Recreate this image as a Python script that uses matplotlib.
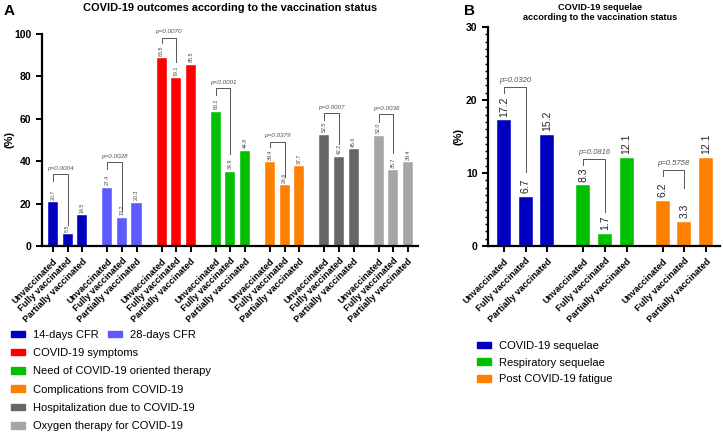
import matplotlib
matplotlib.use("Agg")
import matplotlib.pyplot as plt
from matplotlib.patches import Patch
import numpy as np

plt.rcParams['font.family'] = ['Liberation Sans', 'DejaVu Sans']

statuses = ["Unvaccinated", "Fully vaccinated", "Partially vaccinated"]

# Panel A
a_outcomes = ["14-days CFR", "28-days CFR", "COVID-19 symptoms", "Need of COVID-19 oriented therapy",
              "Complications from COVID-19", "Hospitalization due to COVID-19", "Oxygen therapy for COVID-19"]
a_values = [[20.7, 5.5, 14.5],
            [27.4, 13.2, 20.3],
            [88.5, 79.1, 85.5],
            [63.2, 34.9, 44.8],
            [39.4, 28.6, 37.7],
            [52.5, 42.2, 45.6],
            [52.0, 35.7, 39.4]]
a_pvalues = ["p=0.0004", "p=0.0028", "p=0.0070", "p<0.0001", "p=0.0379", "p=0.0007", "p=0.0036"]
a_colors = ["#0000c0", "#5b5bff", "#ff0000", "#00c000", "#ff8000", "#666666", "#a6a6a6"]
# bracket: top, left leg bottom, right leg bottom
a_brackets = [(34, 30.5, 10), (39.6, 36.3, 16.5), (98.2, 95.7, 87), (74.5, 71.2, 43.5),
              (49.2, 46.7, 32.5), (62.6, 59.4, 48), (62.3, 58.5, 44)]

# Panel B
b_outcomes = ["COVID-19 sequelae", "Respiratory sequelae", "Post COVID-19 fatigue"]
b_values = [[17.2, 6.7, 15.2],
            [8.3, 1.7, 12.1],
            [6.2, 3.3, 12.1]]
b_pvalues = ["p=0.0320", "p=0.0816", "p=0.5758"]
b_colors = ["#0000c0", "#00c000", "#ff8000"]
b_brackets = [(21.8, 21.0, 10.1), (11.9, 11.1, 4.7), (10.4, 9.6, 7.9)]

fig = plt.figure(figsize=(7.23, 4.33), dpi=100)

def style_axis(ax):
    for s in ["top", "right"]:
        ax.spines[s].set_visible(False)
    for s in ["left", "bottom"]:
        ax.spines[s].set_linewidth(1.6)
    ax.tick_params(axis="both", width=1.4, length=4, direction="out")

TICKFS = 6.6

# ---- Panel A
axA = fig.add_axes([42/723, 1-246/433, (418-42)/723, (246-34)/433])
gsA = 3.72
xticksA, xlabA = [], []
for g, vals in enumerate(a_values):
    xs = g*gsA + np.arange(3)
    axA.bar(xs, vals, width=0.69, color=a_colors[g], edgecolor="white", linewidth=0.3)
    for x, v in zip(xs, vals):
        axA.text(x, v + 1.2, f"{v:.1f}", rotation=90, ha="center", va="bottom", fontsize=3.8, color="#444444")
    top, lb, rb = a_brackets[g]
    axA.plot([xs[0], xs[0], xs[1], xs[1]], [lb, top, top, rb], color="#555555", lw=0.7)
    axA.text((xs[0]+xs[1])/2, top + 1.6, a_pvalues[g], ha="center", va="bottom", fontsize=4.6,
             style="italic", color="#555555")
    xticksA += list(xs)
    xlabA += statuses
axA.set_xticks(xticksA)
axA.set_xticklabels(xlabA, rotation=45, ha="right", rotation_mode="anchor", fontsize=TICKFS, fontweight="bold")
axA.set_xlim(-0.76, 6*gsA + 2 + 0.7)
axA.set_ylim(0, 100)
axA.set_yticks([0, 20, 40, 60, 80, 100])
axA.tick_params(axis="y", labelsize=7.5)
for t in axA.get_yticklabels():
    t.set_fontweight("bold")
axA.set_ylabel("(%)", fontsize=8, fontweight="bold")
axA.yaxis.set_label_coords((15-42)/376, 0.5)
style_axis(axA)

fig.text(230/723, 1-8/433, "COVID-19 outcomes according to the vaccination status", ha="center", va="center",
         fontsize=7.9, fontweight="bold")
fig.text(4/723, 1-11/433, "A", ha="left", va="center", fontsize=11, fontweight="bold")

# ---- Panel B
axB = fig.add_axes([488/723, 1-246/433, (720-488)/723, (246-27)/433])
gsB = 3.67
xticksB, xlabB = [], []
for g, vals in enumerate(b_values):
    xs = g*gsB + np.arange(3)
    axB.bar(xs, vals, width=0.65, color=b_colors[g], edgecolor="white", linewidth=0.3)
    for x, v in zip(xs, vals):
        axB.text(x, v + 0.5, f"{v:.1f}", rotation=90, ha="center", va="bottom", fontsize=7.5, color="#222222")
    top, lb, rb = b_brackets[g]
    axB.plot([xs[0], xs[0], xs[1], xs[1]], [lb, top, top, rb], color="#555555", lw=0.7)
    axB.text((xs[0]+xs[1])/2, top + 0.45, b_pvalues[g], ha="center", va="bottom", fontsize=5.5,
             style="italic", color="#555555")
    xticksB += list(xs)
    xlabB += statuses
axB.set_xticks(xticksB)
axB.set_xticklabels(xlabB, rotation=45, ha="right", rotation_mode="anchor", fontsize=TICKFS, fontweight="bold")
axB.set_xlim(-0.74, 2*gsB + 2 + 0.65)
axB.set_ylim(0, 30)
axB.set_yticks([0, 10, 20, 30])
axB.set_yticks(np.arange(0, 31, 1), minor=True)
axB.tick_params(axis="y", which="minor", length=2.5, width=1.0)
axB.tick_params(axis="y", labelsize=7.5)
for t in axB.get_yticklabels():
    t.set_fontweight("bold")
axB.set_ylabel("(%)", fontsize=8, fontweight="bold")
axB.yaxis.set_label_coords((463-488)/232, 0.5)
style_axis(axB)

fig.text(600/723, 1-7/433, "COVID-19 sequelae", ha="center", va="center", fontsize=6.6, fontweight="bold")
fig.text(600/723, 1-18/433, "according to the vaccination status", ha="center", va="center",
         fontsize=6.6, fontweight="bold")
fig.text(464/723, 1-11/433, "B", ha="left", va="center", fontsize=11, fontweight="bold")

# ---- Legends
legkw = dict(frameon=False, fontsize=8, handlelength=1.3, handleheight=0.55, handletextpad=0.7,
             borderaxespad=0, borderpad=0, columnspacing=0.8)
h1 = [Patch(color=a_colors[0]), Patch(color=a_colors[1])]
fig.legend(h1, a_outcomes[:2], ncol=2, loc="upper left",
           bbox_to_anchor=(11/723, 1-330/433), **legkw)
h2 = [Patch(color=c) for c in a_colors[2:]]
fig.legend(h2, a_outcomes[2:], ncol=1, loc="upper left", labelspacing=0.75,
           bbox_to_anchor=(11/723, 1-348/433), **legkw)
h3 = [Patch(color=c) for c in b_colors]
fig.legend(h3, b_outcomes, ncol=1, loc="upper left", labelspacing=0.6,
           bbox_to_anchor=(477/723, 1-341/433), **legkw)

fig.savefig("out.png", dpi=100)
